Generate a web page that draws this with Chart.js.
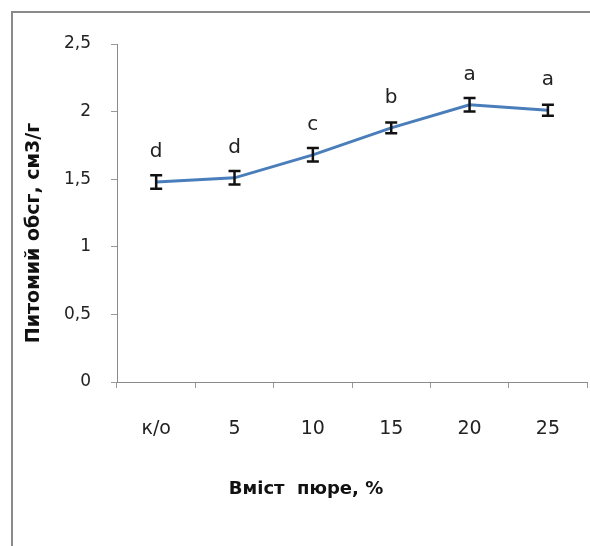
<!DOCTYPE html>
<html>
<head>
<meta charset="utf-8">
<script src="https://cdn.jsdelivr.net/npm/chart.js@4.4.1/dist/chart.umd.min.js"></script>
<style>
  html, body { margin: 0; padding: 0; background: #fff; }
  #wrap { width: 590px; height: 546px; position: relative; }
</style>
</head>
<body>
<div id="wrap"><canvas id="chart" width="590" height="546"></canvas></div>
<script>
// Data
const categories = ['к/о', '5', '10', '15', '20', '25'];
const volume = [1.48, 1.51, 1.68, 1.88, 2.05, 2.01];
const errors = [0.05, 0.05, 0.05, 0.04, 0.05, 0.04];
const groups = ['d', 'd', 'c', 'b', 'a', 'a'];
const yTicks = [0, 0.5, 1, 1.5, 2, 2.5];

const xTitle = 'Вміст  пюре, %';
const yTitle = 'Питомий обсг, см3/г';

const FONT = "'DejaVu Sans', 'Liberation Sans', sans-serif";

// error bars, letters, titles and the outer frame
const extras = {
  id: 'extras',
  beforeDraw(chart) {
    const ctx = chart.ctx;
    ctx.save();
    ctx.fillStyle = '#fff';
    ctx.fillRect(0, 0, chart.width, chart.height);
    ctx.restore();
  },
  afterDatasetsDraw(chart) {
    const ctx = chart.ctx;
    const x = chart.scales.x, y = chart.scales.y;
    ctx.save();
    ctx.strokeStyle = '#111';
    ctx.lineWidth = 2.5;
    volume.forEach(function(v, i) {
      const px = x.getPixelForValue(i);
      const top = y.getPixelForValue(v + errors[i]);
      const bot = y.getPixelForValue(v - errors[i]);
      ctx.beginPath();
      ctx.moveTo(px, top); ctx.lineTo(px, bot);
      ctx.moveTo(px - 6, top); ctx.lineTo(px + 6, top);
      ctx.moveTo(px - 6, bot); ctx.lineTo(px + 6, bot);
      ctx.stroke();
    });
    ctx.fillStyle = '#222';
    ctx.font = '20px ' + FONT;
    ctx.textAlign = 'center';
    ctx.textBaseline = 'middle';
    groups.forEach(function(g, i) {
      const px = x.getPixelForValue(i);
      const py = y.getPixelForValue(volume[i]);
      ctx.fillText(g, px, py - 30);
    });
    ctx.restore();
  },
  afterDraw(chart) {
    const ctx = chart.ctx;
    ctx.save();
    // frame
    ctx.strokeStyle = '#8a8a8a';
    ctx.lineWidth = 2;
    ctx.beginPath();
    ctx.moveTo(12, chart.height + 5);
    ctx.lineTo(12, 12);
    ctx.lineTo(chart.width + 5, 12);
    ctx.stroke();
    // titles
    ctx.fillStyle = '#111';
    ctx.font = 'bold 18px ' + FONT;
    ctx.textAlign = 'center';
    ctx.textBaseline = 'middle';
    ctx.fillText(xTitle, 306, 489);
    ctx.font = 'bold 19px ' + FONT;
    ctx.translate(34, 233);
    ctx.rotate(-Math.PI / 2);
    ctx.fillText(yTitle, 0, 0);
    ctx.restore();
  }
};

new Chart(document.getElementById('chart'), {
  type: 'line',
  data: {
    labels: categories,
    datasets: [{
      data: volume,
      borderColor: '#4a7ebb',
      borderWidth: 3,
      pointRadius: 0,
      tension: 0,
      fill: false
    }]
  },
  options: {
    responsive: false,
    animation: false,
    devicePixelRatio: 1,
    layout: { padding: { left: 12, top: 44, right: 0, bottom: 0 } },
    plugins: {
      legend: { display: false },
      tooltip: { enabled: false }
    },
    scales: {
      x: {
        offset: true,
        grid: { offset: true, drawOnChartArea: false, tickLength: 6, color: '#9a9a9a' },
        border: { color: '#8a8a8a', width: 1 },
        ticks: { color: '#222', font: { family: FONT, size: 19 }, padding: 30, maxRotation: 0 },
        afterFit(scale) { scale.height = 164; }
      },
      y: {
        min: 0,
        max: 2.5,
        afterBuildTicks(scale) { scale.ticks = yTicks.map(v => ({ value: v })); },
        grid: { drawOnChartArea: false, tickLength: 6, color: '#9a9a9a' },
        border: { color: '#8a8a8a', width: 1 },
        ticks: {
          color: '#222',
          font: { family: FONT, size: 17 },
          padding: 20,
          callback: v => String(v).replace('.', ',')
        },
        afterFit(scale) { scale.width = 105; }
      }
    }
  },
  plugins: [extras]
});
</script>
</body>
</html>
